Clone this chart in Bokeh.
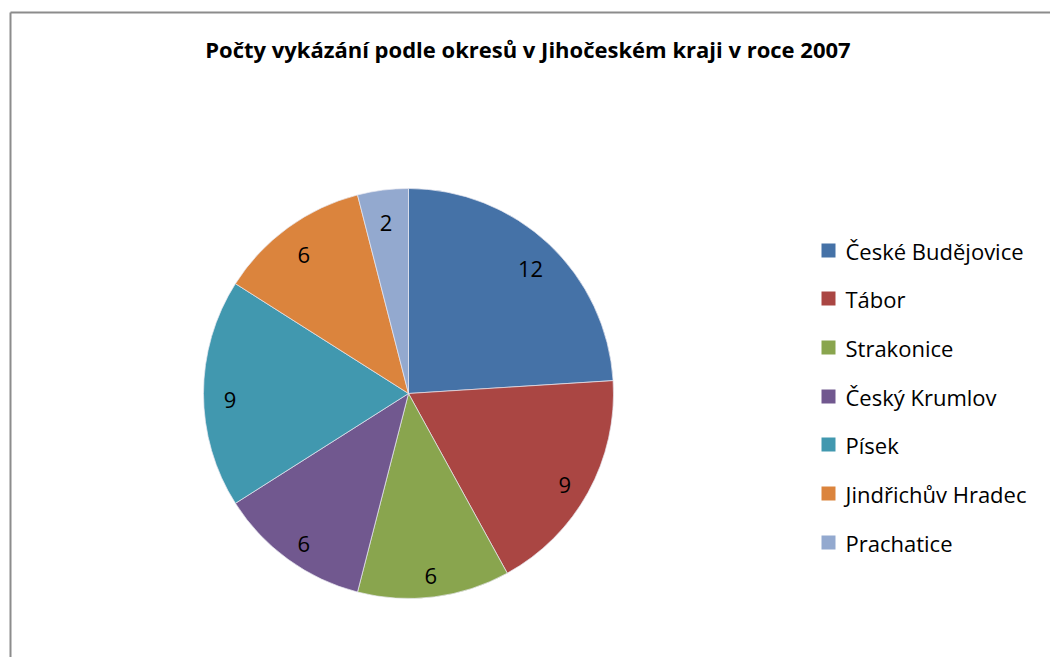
import math
from bokeh.plotting import figure
from bokeh.models import Range1d, ColumnDataSource
from bokeh.core.properties import value
from bokeh.embed import file_html
from bokeh.resources import INLINE

title = "Počty vykázání  podle okresů v Jihočeském  kraji v  roce 2007"
districts = ["České Budějovice", "Tábor", "Strakonice", "Český Krumlov",
             "Písek", "Jindřichův Hradec", "Prachatice"]
counts = [12, 9, 6, 6, 9, 6, 2]
colors = ["#4572A7", "#AA4643", "#89A54E", "#71588F", "#4198AF", "#DB843D", "#93A9CF"]

W, H = 1050, 657
FONT = "Open Sans"


def py(Y):
    # page-pixel row -> data y
    return H - Y


p = figure(width=W, height=H, output_backend="svg", toolbar_location=None,
           x_range=Range1d(0, W), y_range=Range1d(0, H), min_border=0)
p.axis.visible = False
p.grid.visible = False
p.outline_line_color = None
p.background_fill_color = "white"
p.border_fill_color = "white"

# chart-area frame (only left and top edges visible in the crop)
p.segment(x0=[10, 10], y0=[-20, py(12)], x1=[10, W + 20], y1=[py(12), py(12)],
          line_color="#8c8c8c", line_width=2)

# title
p.text(x=[536], y=[py(48)], text=[title], text_font=value(FONT), text_font_style="bold",
       text_font_size="22px", text_align="center", text_baseline="middle",
       text_color="#000000")

# pie
cx, cy, R = 408, py(393), 205
total = sum(counts)
starts, ends, lx, ly = [], [], [], []
cum = 0
for c in counts:
    a0 = math.pi / 2 - 2 * math.pi * cum / total
    cum += c
    a1 = math.pi / 2 - 2 * math.pi * cum / total
    starts.append(a0)
    ends.append(a1)
    mid = (a0 + a1) / 2
    lx.append(cx + 0.87 * R * math.cos(mid))
    ly.append(cy + 0.87 * R * math.sin(mid) - 6)

src = ColumnDataSource(dict(start=starts, end=ends, color=colors,
                            lx=lx, ly=ly, label=[str(c) for c in counts]))
p.wedge(x=cx, y=cy, radius=R, start_angle="start", end_angle="end",
        direction="clock", fill_color="color", line_color="#e8e8f0",
        line_width=0.7, source=src)
p.text(x="lx", y="ly", text="label", source=src, text_font=value(FONT),
       text_font_size="22px", text_align="center", text_baseline="middle",
       text_color="#000000")

# legend
leg_y = [py(y) for y in [250, 298, 347, 396, 444, 493, 542]]
lsrc = ColumnDataSource(dict(x=[828] * 7, y=leg_y, tx=[845] * 7,
                             name=districts, color=colors))
p.rect(x="x", y="y", width=14, height=14, fill_color="color", line_color=None,
       source=lsrc)
p.text(x="tx", y="y", text="name", source=lsrc, text_font=value(FONT),
       text_font_size="22px", text_align="left", text_baseline="middle",
       text_color="#000000")

open("out.html", "w").write(file_html(p, INLINE))
